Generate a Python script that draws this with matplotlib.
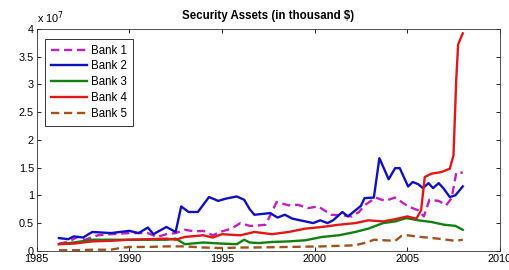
import matplotlib.pyplot as plt

# values in units of 1e7 (thousand $)
years_b1 = [1986.2, 1986.7, 1987.2, 1987.6, 1988.3, 1989.0, 1990.0, 1991.0, 1991.5, 1992.0,
            1992.5, 1993.0, 1993.5, 1994.0, 1994.5, 1995.0, 1995.5, 1996.0, 1996.5, 1996.75,
            1997.35, 1997.7, 1997.95, 1998.6, 1999.1, 1999.65, 2000.2, 2000.9, 2001.5, 2002.0,
            2002.4, 2002.7, 2003.3, 2003.8, 2004.35, 2005.05, 2005.6, 2005.9, 2006.2, 2006.7,
            2007.1, 2007.4, 2007.65, 2008.0]
bank1 = [0.13, 0.16, 0.25, 0.20, 0.28, 0.30, 0.32, 0.32, 0.25, 0.30,
         0.32, 0.38, 0.35, 0.36, 0.28, 0.35, 0.40, 0.50, 0.45, 0.45,
         0.47, 0.70, 0.88, 0.82, 0.83, 0.77, 0.80, 0.65, 0.64, 0.62,
         0.70, 0.82, 0.96, 0.90, 0.96, 0.80, 0.73, 0.62, 0.92, 0.90,
         0.82, 0.95, 1.41, 1.41]

years_b2 = [1986.2, 1986.7, 1987.0, 1987.5, 1988.0, 1989.0, 1990.0, 1990.5, 1991.0, 1991.3,
            1992.0, 1992.5, 1992.8, 1993.2, 1993.7, 1994.3, 1994.8, 1995.2, 1995.8, 1996.2,
            1996.5, 1996.75, 1997.6, 1998.0, 1998.4, 1998.8, 1999.93, 2000.3, 2000.7, 2001.0,
            2001.5, 2001.8, 2002.5, 2002.7, 2003.2, 2003.5, 2004.0, 2004.35, 2004.6, 2005.05,
            2005.3, 2005.6, 2005.85, 2006.15, 2006.4, 2006.7, 2006.95, 2007.3, 2007.6, 2008.0]
bank2 = [0.23, 0.21, 0.26, 0.24, 0.34, 0.32, 0.36, 0.32, 0.42, 0.30,
         0.43, 0.34, 0.80, 0.70, 0.70, 0.97, 0.90, 0.94, 0.98, 0.92,
         0.75, 0.65, 0.68, 0.60, 0.65, 0.58, 0.50, 0.55, 0.50, 0.55,
         0.70, 0.62, 0.81, 0.95, 0.96, 1.67, 1.29, 1.49, 1.49, 1.16,
         1.24, 1.20, 1.13, 1.22, 1.13, 1.22, 1.13, 0.97, 1.00, 1.16]

years_b3 = [1986.2, 1987.0, 1988.0, 1989.0, 1990.0, 1991.0, 1992.0, 1992.5, 1993.0, 1994.0,
            1995.0, 1995.8, 1996.2, 1996.5, 1997.0, 1997.7, 1998.6, 1999.5, 2000.4, 2001.3,
            2002.2, 2002.9, 2003.7, 2004.35, 2004.95, 2005.6, 2006.3, 2007.0, 2007.6, 2008.0]
bank3 = [0.12, 0.15, 0.20, 0.20, 0.20, 0.20, 0.20, 0.22, 0.12, 0.15,
         0.13, 0.12, 0.20, 0.15, 0.14, 0.16, 0.17, 0.19, 0.25, 0.28,
         0.34, 0.40, 0.50, 0.53, 0.59, 0.55, 0.52, 0.47, 0.45, 0.38]

years_b4 = [1986.2, 1987.0, 1988.0, 1989.0, 1990.0, 1991.0, 1992.0, 1992.5, 1993.0, 1994.0,
            1994.5, 1995.0, 1996.0, 1996.75, 1997.7, 1998.6, 1999.5, 2000.4, 2001.3, 2002.2,
            2002.9, 2003.7, 2004.35, 2005.0, 2005.5, 2005.75, 2005.95, 2006.3, 2006.85, 2007.3,
            2007.5, 2007.65, 2007.75, 2008.0]
bank4 = [0.12, 0.13, 0.17, 0.18, 0.20, 0.21, 0.22, 0.20, 0.25, 0.28,
         0.24, 0.30, 0.28, 0.34, 0.30, 0.34, 0.40, 0.43, 0.47, 0.50,
         0.55, 0.53, 0.57, 0.62, 0.58, 0.73, 1.33, 1.39, 1.42, 1.48,
         1.72, 3.09, 3.72, 3.92]

years_b5 = [1986.2, 1987.0, 1988.0, 1989.0, 1989.5, 1990.0, 1991.0, 1992.0, 1993.0, 1994.0,
            1995.0, 1996.0, 1996.75, 1998.6, 2000.4, 2002.2, 2002.9, 2003.2, 2004.35, 2004.7,
            2005.0, 2005.75, 2006.65, 2007.6, 2008.0]
bank5 = [0.01, 0.01, 0.02, 0.02, 0.05, 0.07, 0.07, 0.08, 0.08, 0.06,
         0.05, 0.06, 0.06, 0.07, 0.08, 0.10, 0.16, 0.20, 0.18, 0.27,
         0.28, 0.25, 0.22, 0.18, 0.20]

plt.rcParams["font.family"] = ["Liberation Sans", "DejaVu Sans"]

fig = plt.figure(figsize=(5.1, 2.7), dpi=100)
ax = fig.add_axes([0.072, 0.071, 0.908, 0.822])

ax.plot(years_b1, bank1, "--", color="#c020c0", lw=1.7, label="Bank 1", dashes=(3.5, 2))
ax.plot(years_b2, bank2, "-", color="#1010c0", lw=1.7, label="Bank 2")
ax.plot(years_b3, bank3, "-", color="#108010", lw=1.7, label="Bank 3")
ax.plot(years_b4, bank4, "-", color="#e01818", lw=1.7, label="Bank 4")
ax.plot(years_b5, bank5, "--", color="#a0521e", lw=1.7, label="Bank 5", dashes=(3.5, 2))

ax.set_xlim(1985, 2010)
ax.set_ylim(0, 4)
ax.set_xticks(range(1985, 2011, 5))
yt = [i * 0.5 for i in range(9)]
ax.set_yticks(yt)
ax.set_yticklabels(["%g" % v for v in yt])
ax.tick_params(direction="in", top=True, right=True, labelsize=7.8, length=3, width=0.6, pad=2)
for s in ax.spines.values():
    s.set_linewidth(0.6)
    s.set_color("#333333")

ax.text(0.0, 1.015, r"x 10$^7$", transform=ax.transAxes, fontsize=7.8, ha="left", va="bottom")
ax.set_title("Security Assets (in thousand $)", fontsize=8.3, fontweight="bold", pad=7)

leg = ax.legend(loc="upper left", fontsize=8.3, handlelength=3.1, handletextpad=0.4,
                borderpad=0.5, labelspacing=0.33, bbox_to_anchor=(0.018, 0.955),
                fancybox=False, framealpha=1, borderaxespad=0)
leg.get_frame().set_edgecolor("#333333")
leg.get_frame().set_linewidth(0.7)

fig.savefig("out.png", dpi=100)
